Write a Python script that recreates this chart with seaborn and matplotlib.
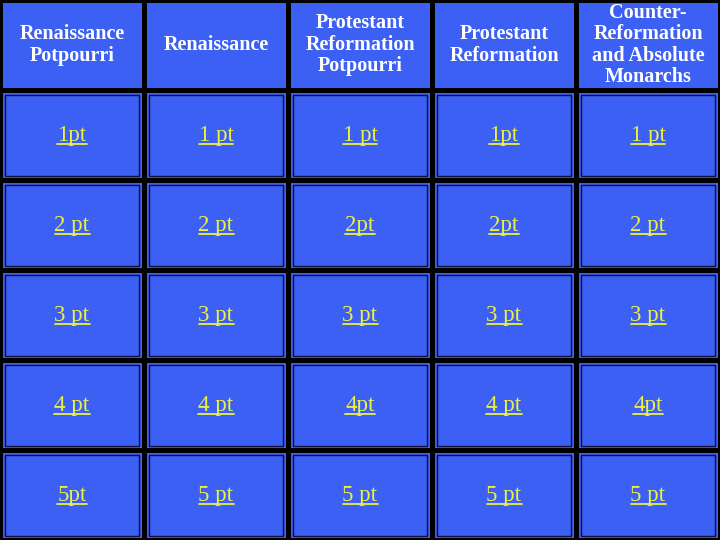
import matplotlib
matplotlib.use("Agg")
import matplotlib.pyplot as plt
import seaborn as sns
import numpy as np
from matplotlib.patches import Rectangle

categories = ["Renaissance\nPotpourri", "Renaissance", "Protestant\nReformation\nPotpourri",
              "Protestant\nReformation", "Counter-\nReformation\nand Absolute\nMonarchs"]
point_labels = [
    ["1pt", "1 pt", "1 pt", "1pt", "1 pt"],
    ["2 pt", "2 pt", "2pt", "2pt", "2 pt"],
    ["3 pt", "3 pt", "3 pt", "3 pt", "3 pt"],
    ["4 pt", "4 pt", "4pt", "4 pt", "4pt"],
    ["5pt", "5 pt", "5 pt", "5 pt", "5 pt"],
]

sns.set_theme(style="white")
fig = plt.figure(figsize=(7.2, 5.4), dpi=100, facecolor="black")
ax = fig.add_axes([0, 0, 1, 1])
data = np.zeros((6, 5))
sns.heatmap(data, ax=ax, cmap=sns.color_palette(["#3D60F4"]), cbar=False,
            linewidths=2.5, linecolor="black", xticklabels=False, yticklabels=False)
ax.set_xlim(0, 5); ax.set_ylim(6, 0)

for j, c in enumerate(categories):
    ax.text(j + 0.5, 0.5, c, ha="center", va="center", color="white",
            fontsize=14.5, fontweight="bold", family="Liberation Serif", linespacing=1.1)

fig.canvas.draw()
r = fig.canvas.get_renderer()
for i, row in enumerate(point_labels):
    for j, lab in enumerate(row):
        y = i + 1
        ax.add_patch(Rectangle((j + 0.035, y + 0.05), 0.93, 0.9, fill=False,
                               edgecolor="#101040", lw=1.0))
        t = ax.text(j + 0.5, y + 0.5, lab, ha="center", va="center", color="#EEF044",
                    fontsize=16.5, family="Liberation Serif")
        bb = t.get_window_extent(renderer=r).transformed(ax.transData.inverted())
        ax.plot([bb.x0, bb.x1], [y + 0.6, y + 0.6], color="#EEF044", lw=1.3)

fig.savefig("out.png", dpi=100, facecolor="black")
